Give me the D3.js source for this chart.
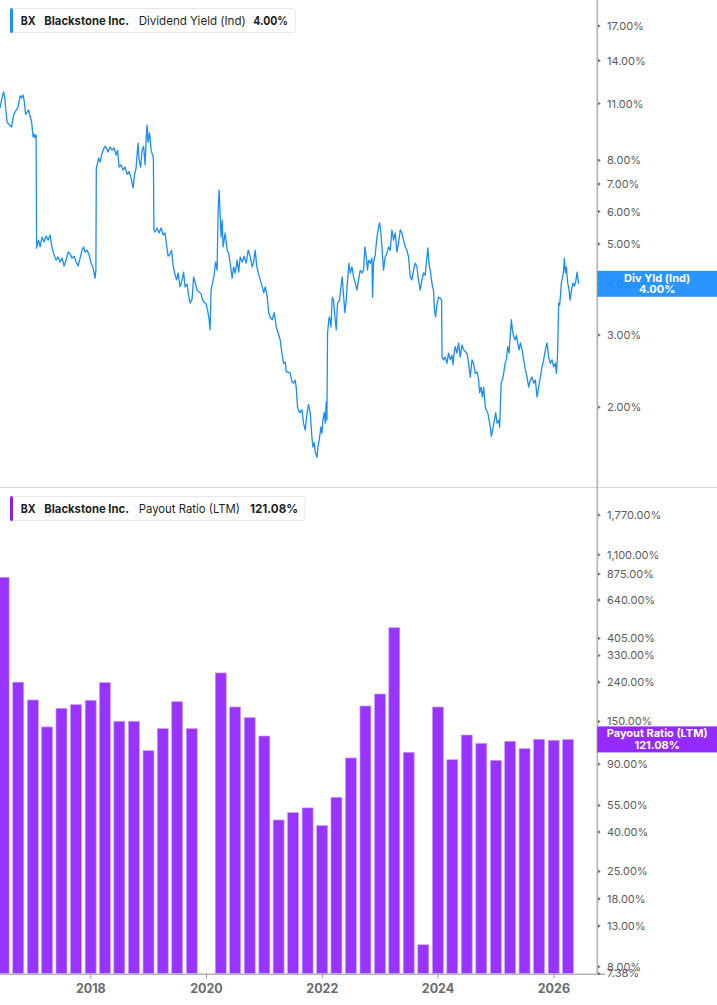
<!DOCTYPE html>
<html><head><meta charset="utf-8">
<script src="https://cdn.jsdelivr.net/npm/d3@7"></script>
<style>
html,body{margin:0;padding:0;background:#fff;}
svg{display:block;font-family:Inter,"Noto Sans",sans-serif;}
</style></head><body>
<svg id="chart" width="717" height="1005"></svg>
<script>
// ---------- data ----------
const yieldTicks = [17, 14, 11, 8, 7, 6, 5, 4, 3, 2];
const payoutTicks = [1770, 1100, 875, 640, 405, 330, 240, 150, 90, 55, 40, 25, 18, 13, 8, 7.38];
const xTickYears = [2018, 2020, 2022, 2024, 2026];
const latestYield = 4.00;
const latestPayout = 121.08;

const quarterEnds = ["2016-06-30","2016-09-30","2016-12-31","2017-03-31","2017-06-30","2017-09-30","2017-12-31",
 "2018-03-31","2018-06-30","2018-09-30","2018-12-31","2019-03-31","2019-06-30","2019-09-30","2019-12-31",
 "2020-03-31","2020-06-30","2020-09-30","2020-12-31","2021-03-31","2021-06-30","2021-09-30","2021-12-31",
 "2022-03-31","2022-06-30","2022-09-30","2022-12-31","2023-03-31","2023-06-30","2023-09-30","2023-12-31",
 "2024-03-31","2024-06-30","2024-09-30","2024-12-31","2025-03-31","2025-06-30","2025-09-30","2025-12-31","2026-03-31"];
const payoutRatio = [841, 240, 194, 140.5, 175.6, 183.4, 193.3, 238.6, 150.4, 150.4, 105.8, 137.7, 190, 137.7, null,
 268, 178.4, 157, 126.1, 46.2, 50.5, 53.4, 43.2, 60.6, 97.0, 180.5, 208.3, 460, 103.8, 10.4, 178.4,
 95.0, 127.6, 115.6, 94.3, 118.4, 108.4, 121.3, 119.8, 121.08];

// [decimal year, dividend yield %]
const dividendYield = [
[2016.432,10.73],[2016.458,11.22],[2016.493,11.74],[2016.510,11.48],[2016.536,10.49],[2016.553,9.92],[2016.596,9.75],
[2016.631,9.64],[2016.665,10.31],[2016.691,10.49],[2016.743,10.79],[2016.778,11.48],[2016.804,11.35],[2016.830,11.54],
[2016.847,11.22],[2016.873,10.37],[2016.899,10.49],[2016.925,10.61],[2016.977,9.92],[2017.002,9.12],[2017.020,9.27],
[2017.037,9.07],[2017.054,9.22],[2017.063,4.89],
[2017.072,4.97],[2017.097,5.11],[2017.123,4.92],[2017.158,5.20],[2017.193,5.06],[2017.227,5.23],[2017.262,5.11],
[2017.296,5.26],[2017.331,4.89],[2017.365,4.70],[2017.400,4.57],[2017.435,4.65],[2017.469,4.52],[2017.504,4.62],
[2017.538,4.42],[2017.573,4.57],[2017.607,4.78],[2017.642,4.73],[2017.677,4.62],[2017.711,4.67],[2017.746,4.52],
[2017.780,4.42],[2017.815,4.62],[2017.849,4.83],[2017.875,4.92],[2017.901,4.78],[2017.936,4.83],[2017.971,4.70],
[2018.005,4.49],[2018.040,4.37],[2018.074,4.13],[2018.088,4.32],[2018.095,7.66],
[2018.109,7.79],[2018.135,8.10],[2018.161,7.92],[2018.187,8.24],[2018.212,8.47],[2018.247,8.66],[2018.273,8.57],
[2018.299,8.38],[2018.334,8.62],[2018.368,8.47],[2018.403,8.57],[2018.437,8.24],[2018.463,8.47],[2018.489,7.70],
[2018.524,7.79],[2018.558,7.57],[2018.593,7.70],[2018.627,7.39],[2018.662,7.51],[2018.696,7.24],[2018.731,6.85],
[2018.757,7.39],[2018.783,7.66],[2018.800,8.24],[2018.817,8.81],[2018.835,8.01],[2018.861,7.70],[2018.887,8.47],
[2018.913,8.66],[2018.939,7.79],[2018.956,8.96],[2018.973,9.75],[2018.990,8.86],[2019.016,9.33],[2019.042,8.47],
[2019.068,8.24],[2019.082,8.10],[2019.091,5.41],
[2019.111,5.35],[2019.146,5.47],[2019.180,5.32],[2019.215,5.47],[2019.250,5.26],[2019.284,5.32],[2019.310,4.97],
[2019.336,4.67],[2019.371,4.73],[2019.397,4.83],[2019.423,4.44],[2019.457,4.20],[2019.483,4.09],[2019.509,4.25],
[2019.543,3.93],[2019.578,4.09],[2019.604,4.27],[2019.630,3.93],[2019.665,3.99],[2019.690,3.75],[2019.716,3.59],
[2019.751,3.67],[2019.777,4.16],[2019.803,4.04],[2019.837,3.86],[2019.872,3.82],[2019.906,3.78],[2019.932,3.65],
[2019.958,3.61],[2019.993,3.57],[2020.019,3.45],[2020.045,3.27],[2020.062,3.09],
[2020.079,3.86],[2020.105,4.02],[2020.131,4.20],[2020.157,4.52],[2020.183,4.32],[2020.200,6.05],[2020.218,6.77],
[2020.235,5.88],[2020.252,5.20],[2020.269,5.72],[2020.287,4.92],[2020.321,5.32],[2020.356,4.83],[2020.382,4.75],
[2020.408,4.49],[2020.442,4.13],[2020.468,4.40],[2020.494,4.25],[2020.529,4.57],[2020.555,4.27],[2020.581,4.65],
[2020.615,4.52],[2020.650,4.67],[2020.684,4.49],[2020.719,4.83],[2020.754,4.65],[2020.788,4.40],[2020.814,4.52],
[2020.840,4.83],[2020.866,4.42],[2020.892,4.25],[2020.926,4.09],[2020.961,3.93],[2020.987,3.80],[2021.013,3.93],
[2021.047,3.71],[2021.073,3.40],[2021.099,3.31],[2021.134,3.27],[2021.168,3.40],[2021.203,3.14],[2021.237,3.03],
[2021.272,2.92],
[2021.301,2.71],[2021.329,2.56],[2021.358,2.58],[2021.376,2.44],[2021.398,2.44],[2021.445,2.42],[2021.474,2.31],
[2021.502,2.29],[2021.531,2.33],[2021.549,2.23],[2021.571,2.00],[2021.589,1.97],[2021.606,1.94],[2021.647,1.97],
[2021.675,1.83],[2021.704,1.76],[2021.722,1.86],[2021.744,1.97],[2021.761,2.03],[2021.791,1.94],[2021.820,1.69],
[2021.837,1.60],[2021.860,1.64],[2021.877,1.56],[2021.907,1.51],[2021.924,1.60],[2021.952,1.69],[2021.976,1.79],
[2021.993,1.73],[2022.010,1.86],[2022.033,1.94],[2022.050,1.83],[2022.067,2.06],[2022.079,1.86],[2022.090,3.03],
[2022.111,3.27],[2022.124,3.32],[2022.149,3.14],[2022.171,3.71],[2022.193,3.65],[2022.218,3.32],[2022.240,3.09],
[2022.263,3.59],[2022.297,3.65],[2022.321,3.93],[2022.344,4.16],[2022.366,3.75],[2022.391,3.40],[2022.413,3.65],
[2022.436,4.09],[2022.460,4.49],[2022.482,4.25],[2022.512,4.40],[2022.539,4.16],[2022.569,4.02],[2022.598,3.86],
[2022.626,4.09],[2022.655,4.32],[2022.684,4.25],[2022.712,4.32],[2022.736,4.92],[2022.759,4.65],[2022.781,4.32],
[2022.799,4.57],[2022.828,4.49],[2022.857,4.62],[2022.868,3.71],[2022.885,4.52],[2022.914,4.70],[2022.944,5.20],
[2022.971,5.50],[2022.989,5.63],[2023.013,5.32],[2023.030,4.92],[2023.058,4.32],[2023.087,4.65],[2023.117,4.75],
[2023.144,4.92],[2023.174,4.83],[2023.203,5.41],[2023.231,5.11],[2023.260,5.32],[2023.290,4.78],[2023.317,5.03],
[2023.347,5.41],[2023.376,5.32],[2023.404,5.11],[2023.433,4.92],[2023.462,4.83],[2023.490,4.65],[2023.519,4.16],
[2023.549,4.09],[2023.576,4.32],[2023.606,4.49],[2023.635,4.40],[2023.663,4.09],[2023.692,3.86],[2023.722,4.09],
[2023.749,4.25],[2023.779,4.20],[2023.808,4.65],[2023.825,4.89],[2023.843,4.49],[2023.865,4.32],[2023.882,4.13],
[2023.905,3.93],[2023.922,3.86],[2023.939,3.45],[2023.957,3.32],[2023.981,3.55],[2024.009,3.71],[2024.038,3.69],
[2024.061,3.65],[2024.069,2.65],
[2024.095,2.61],[2024.124,2.65],[2024.154,2.56],[2024.181,2.71],[2024.211,2.61],[2024.240,2.68],[2024.257,2.54],
[2024.280,2.73],[2024.297,2.81],[2024.326,2.71],[2024.354,2.87],[2024.383,2.65],[2024.413,2.84],[2024.441,2.76],
[2024.470,2.73],[2024.499,2.71],[2024.527,2.56],[2024.556,2.37],[2024.586,2.61],[2024.613,2.56],[2024.643,2.42],
[2024.672,2.44],[2024.700,2.33],[2024.717,2.17],[2024.741,2.24],[2024.764,2.12],[2024.787,2.24],[2024.816,2.00],
[2024.833,1.97],[2024.856,1.94],[2024.873,1.89],[2024.902,1.79],[2024.919,1.70],[2024.949,1.78],[2024.971,1.86],
[2024.994,1.94],[2025.018,1.83],[2025.046,1.86],[2025.063,1.79],[2025.088,2.29],[2025.110,2.33],[2025.132,2.42],
[2025.156,2.56],[2025.179,2.61],[2025.201,2.81],[2025.226,2.71],[2025.248,3.03],[2025.265,3.27],[2025.283,3.09],
[2025.305,2.97],[2025.329,2.92],[2025.352,3.00],[2025.374,2.87],[2025.398,2.76],[2025.421,2.87],[2025.450,2.76],
[2025.478,2.61],[2025.507,2.47],[2025.537,2.37],[2025.564,2.24],[2025.594,2.33],[2025.623,2.37],[2025.651,2.29],
[2025.680,2.33],[2025.709,2.12],[2025.737,2.24],[2025.766,2.37],[2025.796,2.51],[2025.823,2.61],[2025.853,2.76],
[2025.882,2.87],[2025.910,2.65],[2025.939,2.56],[2025.969,2.61],[2025.996,2.51],[2026.026,2.56],[2026.043,2.42],
[2026.065,2.71],[2026.083,3.59],[2026.100,3.55],[2026.112,3.71],[2026.129,4.02],[2026.152,4.16],[2026.169,4.32],
[2026.181,4.62],[2026.199,4.25],[2026.216,4.40],[2026.239,4.02],[2026.263,3.86],[2026.280,3.65],[2026.297,3.80],
[2026.315,3.93],[2026.332,4.02],[2026.354,3.95],[2026.377,4.04],[2026.401,4.27],[2026.418,4.09],[2026.429,4.00]
];

// ---------- helpers ----------
function yearToDate(t){
  const y = Math.floor(t), a = Date.UTC(y,0,1), b = Date.UTC(y+1,0,1);
  return new Date(a + (t - y) * (b - a));
}
const parse = d3.utcParse("%Y-%m-%d");

// ---------- layout ----------
const W = 717, H = 1005;
const axisX = 597.3;
const svg = d3.select("#chart");

const x = d3.scaleUtc()
  .domain([parse("2016-06-07"), parse("2026-10-02")])
  .range([0, axisX]);
const yTop = d3.scaleLog().domain([2, 17]).range([407.3, 26]);
const yBot = d3.scaleLog().domain([8, 1770]).range([966.7, 515]);
const baseY = yBot(d3.min(payoutTicks));

svg.append("defs").append("clipPath").attr("id","plotclip")
  .append("rect").attr("x",0).attr("y",0).attr("width",axisX).attr("height",H);

// panel divider
svg.append("line").attr("x1",0).attr("x2",W).attr("y1",487.5).attr("y2",487.5)
  .attr("stroke","#d4d4d4").attr("stroke-width",1);

// ---------- bars ----------
const barData = quarterEnds.map((d,i)=>({date:parse(d), v:payoutRatio[i]})).filter(d=>d.v!=null);
const step = x(parse("2017-06-30")) - x(parse("2017-03-31"));
const bw = step * 0.76;
svg.append("g").attr("clip-path","url(#plotclip)")
  .selectAll("rect").data(barData).join("rect")
  .attr("x", d => x(d.date) - bw/2)
  .attr("width", bw)
  .attr("y", d => yBot(d.v))
  .attr("height", d => baseY - yBot(d.v))
  .attr("fill", "#9933ff")
  .attr("stroke", "#c7a0ff")
  .attr("stroke-width", 0.7);

// ---------- line ----------
const line = d3.line().x(d => x(yearToDate(d[0]))).y(d => yTop(d[1]));
svg.append("path").attr("clip-path","url(#plotclip)")
  .datum(dividendYield)
  .attr("d", line)
  .attr("fill","none")
  .attr("stroke","#1a8cff")
  .attr("stroke-width",1.3)
  .attr("stroke-linejoin","round");

// ---------- bottom x axis ----------
svg.append("line").attr("x1",0).attr("x2",axisX+8).attr("y1",baseY+0.8).attr("y2",baseY+0.8)
  .attr("stroke","#b3b3b3").attr("stroke-width",1.6);
const xt = svg.append("g");
xTickYears.forEach(yr => {
  const xp = x(new Date(Date.UTC(yr,0,1)));
  xt.append("line").attr("x1",xp).attr("x2",xp).attr("y1",baseY).attr("y2",baseY+5)
    .attr("stroke","#9a9a9a").attr("stroke-width",1);
  xt.append("text").attr("x",xp).attr("y",993).attr("text-anchor","middle")
    .attr("font-size",12.5).attr("font-weight",700).attr("fill","#6b6b6b").text(yr);
});

// ---------- right axis ----------
svg.append("line").attr("x1",axisX).attr("x2",axisX).attr("y1",0).attr("y2",baseY+1.5)
  .attr("stroke","#b3b3b3").attr("stroke-width",1.6);

function rightTicks(ticks, scale){
  const g = svg.append("g");
  const fmt = d3.format(",.2f");
  ticks.forEach(t => {
    const yp = scale(t);
    g.append("path").attr("d",`M${axisX+0.8},${yp-1.8}L${axisX+3.4},${yp}L${axisX+0.8},${yp+1.8}Z`)
      .attr("fill","#666");
    g.append("text").attr("x",607).attr("y",yp).attr("dy","0.36em")
      .attr("font-size",11).attr("fill","#5c5c5c").text(fmt(t)+"%");
  });
}
rightTicks(yieldTicks, yTop);
rightTicks(payoutTicks, yBot);

// ---------- value badges ----------
function badge(yc, color, l1, l2){
  svg.append("rect").attr("x",axisX).attr("y",yc-13).attr("width",W-axisX).attr("height",26)
    .attr("fill",color).attr("opacity",0.93);
  svg.append("text").attr("x",(axisX+W)/2).attr("y",yc-2.2).attr("text-anchor","middle")
    .attr("font-size",11).attr("font-weight",700).attr("fill","#fff").text(l1);
  svg.append("text").attr("x",(axisX+W)/2).attr("y",yc+9.6).attr("text-anchor","middle")
    .attr("font-size",11).attr("font-weight",700).attr("fill","#fff").text(l2);
}
badge(yTop(latestYield), "#1a8cff", "Div Yld (Ind)", latestYield.toFixed(2)+"%");
badge(yBot(latestPayout), "#8c1aff", "Payout Ratio (LTM)", latestPayout.toFixed(2)+"%");

// ---------- legends ----------
// parts: [text, bold, x-position, fitted width]
function legend(y0, color, boxW, parts){
  const g = svg.append("g");
  g.append("rect").attr("x",10.5).attr("y",y0+0.5).attr("height",24).attr("width",boxW).attr("rx",3)
    .attr("fill","#fff").attr("stroke","#e8e8e8");
  parts.forEach(p => {
    g.append("text").attr("x",p[2]).attr("y",y0+17).attr("font-size",12)
      .attr("font-weight",p[1]?700:400).attr("fill","#1f1f1f")
      .attr("textLength",p[3]).attr("lengthAdjust","spacingAndGlyphs").text(p[0]);
  });
  g.append("rect").attr("x",10).attr("y",y0).attr("width",3).attr("height",25).attr("rx",1.5).attr("fill",color);
}
legend(8, "#1e8fff", 285, [["BX",true,20.7,15],["Blackstone Inc.",true,44.3,84.7],
  ["Dividend Yield (Ind)",false,138.7,107],[latestYield.toFixed(2)+"%",true,253.3,34.7]]);
legend(496, "#8a1cff", 294.5, [["BX",true,20.7,15],["Blackstone Inc.",true,44.3,84.7],
  ["Payout Ratio (LTM)",false,138.7,101.3],[latestPayout.toFixed(2)+"%",true,250,48]]);
</script>
</body></html>
